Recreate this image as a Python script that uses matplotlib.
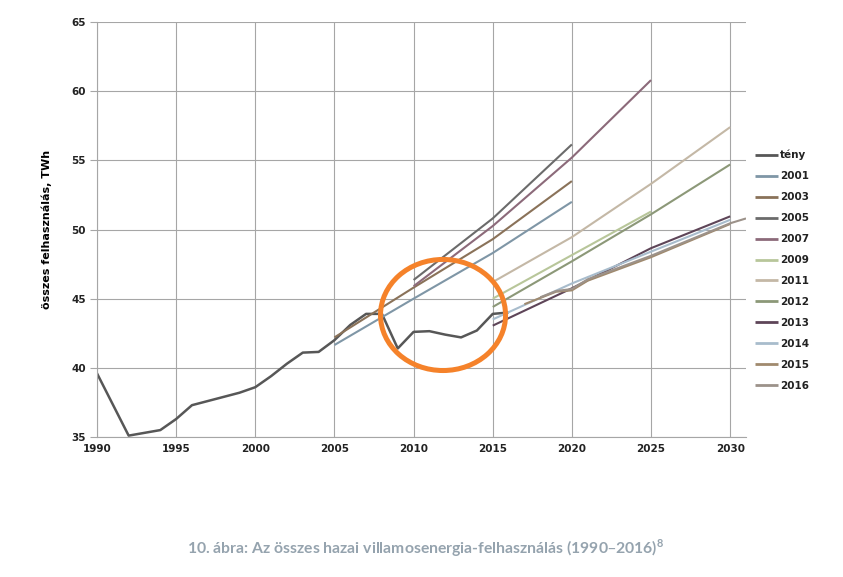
import matplotlib
matplotlib.use("Agg")
import matplotlib.pyplot as plt
from matplotlib.patches import Ellipse

# ---- data ----
teny_years = [1990, 1992, 1994, 1995, 1996, 1997, 1998, 1999, 2000, 2001, 2002, 2003,
              2004, 2005, 2006, 2007, 2008, 2009, 2010, 2011, 2012, 2013, 2014, 2015, 2016]
teny_vals = [39.6, 35.1, 35.5, 36.3, 37.3, 37.6, 37.9, 38.2, 38.6, 39.4, 40.3, 41.1,
             41.15, 42.0, 43.1, 43.9, 43.9, 41.4, 42.6, 42.65, 42.4, 42.2, 42.7, 43.9, 44.0]

f2001_years = [2005, 2010, 2015, 2020]
f2001_vals = [41.65, 45.0, 48.3, 52.0]
f2003_years = [2005, 2010, 2015, 2020]
f2003_vals = [42.2, 45.8, 49.3, 53.5]
f2005_years = [2010, 2015, 2020]
f2005_vals = [46.35, 50.8, 56.15]
f2007_years = [2010, 2015, 2020, 2025]
f2007_vals = [45.9, 50.25, 55.2, 60.8]
f2009_years = [2015, 2020, 2025]
f2009_vals = [45.0, 48.15, 51.3]
f2011_years = [2015, 2020, 2025, 2030]
f2011_vals = [46.2, 49.45, 53.3, 57.4]
f2012_years = [2015, 2020, 2025, 2030]
f2012_vals = [44.4, 47.7, 51.1, 54.7]
f2013_years = [2015, 2020, 2025, 2030]
f2013_vals = [43.05, 45.75, 48.65, 50.95]
f2014_years = [2015, 2020, 2025, 2030]
f2014_vals = [43.5, 46.1, 48.4, 50.7]
f2015_years = [2017, 2019, 2020, 2021, 2025, 2030]
f2015_vals = [44.6, 45.5, 45.6, 46.3, 48.0, 50.4]
f2016_years = [2018, 2019, 2020, 2021, 2025, 2030, 2031]
f2016_vals = [45.1, 45.55, 45.7, 46.4, 48.1, 50.45, 50.8]

labels = ["tény", "2001", "2003", "2005", "2007", "2009", "2011", "2012",
          "2013", "2014", "2015", "2016"]
colors = ["#575757", "#7f96a6", "#8a7259", "#6b6b6b", "#8c6a7a", "#b8c69a",
          "#c4b8a6", "#8c9878", "#5e4558", "#a8bccc", "#a08a6e", "#9c928a"]

series = [(teny_years, teny_vals), (f2001_years, f2001_vals), (f2003_years, f2003_vals),
          (f2005_years, f2005_vals), (f2007_years, f2007_vals), (f2009_years, f2009_vals),
          (f2011_years, f2011_vals), (f2012_years, f2012_vals), (f2013_years, f2013_vals),
          (f2014_years, f2014_vals), (f2015_years, f2015_vals), (f2016_years, f2016_vals)]

x_ticks = [1990, 1995, 2000, 2005, 2010, 2015, 2020, 2025, 2030]
y_ticks = [35, 40, 45, 50, 55, 60, 65]

fig = plt.figure(figsize=(8.43, 5.77), dpi=100)
ax = fig.add_axes([97/843, 1-437/577, (746-97)/843, (437-22)/577])

for (xs, ys), lab, col in zip(series, labels, colors):
    ax.plot(xs, ys, color=col, lw=1.8 if lab == "tény" else 1.5, label=lab,
            solid_capstyle="butt")

ax.set_xlim(1990, 2031)
ax.set_ylim(35, 65)
ax.set_xticks(x_ticks)
ax.set_yticks(y_ticks)
ax.grid(True, color="#a6a6a6", lw=0.8)
ax.set_axisbelow(True)
for s in ["top", "right"]:
    ax.spines[s].set_visible(False)
for s in ["left", "bottom"]:
    ax.spines[s].set_color("#a6a6a6")
    ax.spines[s].set_linewidth(0.8)
ax.tick_params(axis="y", length=5, color="#a6a6a6", labelsize=7.5, pad=3)
ax.tick_params(axis="x", length=0, labelsize=7.5, pad=5)
for t in ax.get_xticklabels() + ax.get_yticklabels():
    t.set_fontweight("bold")
    t.set_color("#222222")

ax.set_ylabel("összes felhasználás, TWh", fontsize=8, fontweight="bold", labelpad=14)

# orange circle highlight
ell = Ellipse((2011.86, 43.82), 7.9, 8.03, fill=False, edgecolor="#f5822a", lw=3.6,
              zorder=5)
ax.add_patch(ell)

leg = ax.legend(loc="upper left", bbox_to_anchor=(755/843, 1-150/577),
                bbox_transform=fig.transFigure, frameon=False, fontsize=7.5,
                handlelength=2.2, handletextpad=0.2, labelspacing=1.05,
                borderaxespad=0, borderpad=0)
for t in leg.get_texts():
    t.set_fontweight("bold")
    t.set_color("#222222")
for l in leg.get_lines():
    l.set_linewidth(2.0)

fig.text(0.505, 1-548/577,
         "10. ábra: Az összes hazai villamosenergia-felhasználás (1990–2016)$^{\\mathregular{8}}$",
         ha="center", va="center", fontsize=11.3, fontweight="bold", color="#95a3ae",
         family="Lato")

fig.savefig("out.png", dpi=100)
